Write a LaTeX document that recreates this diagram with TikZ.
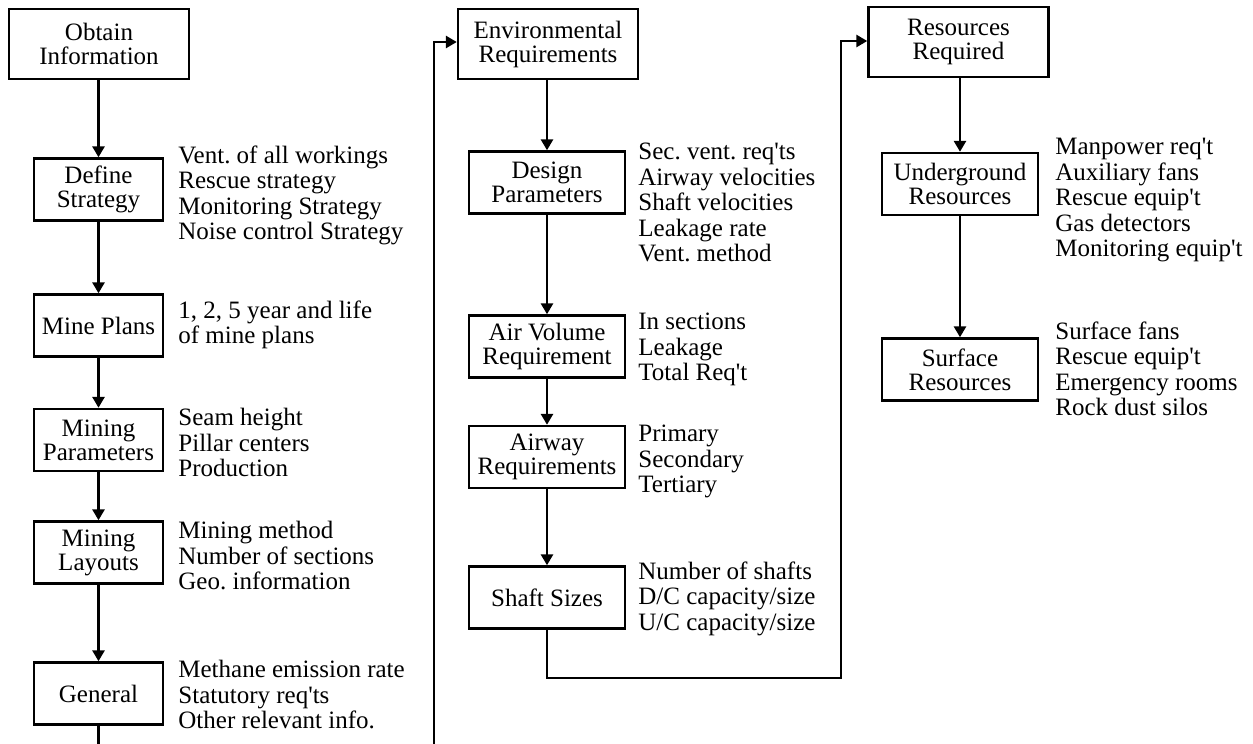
\documentclass[tikz,border=0pt]{standalone}
\usepackage{fontspec}
\setmainfont{Liberation Serif}
\usetikzlibrary{arrows.meta}
\frenchspacing
\newcommand{\ap}{\textquotesingle}

\tikzset{
  box/.style={draw, line width=1.2pt, rectangle, align=center, inner sep=1pt,
    minimum width=64.5pt, minimum height=31pt,
    font=\fontsize{12.5}{12}\selectfont},
  widebox/.style={box, minimum width=78pt},
  bigbox/.style={box, minimum width=90pt, minimum height=35pt},
  notes/.style={anchor=north west, inner sep=0pt, align=left,
    font=\fontsize{12.5}{12.75}\selectfont},
  arr/.style={line width=1.4pt, -{Triangle[length=5.5pt,width=6pt]}}
}

\begin{document}
\begin{tikzpicture}[x=0.5pt, y=-0.5pt]
  \useasboundingbox (0,0) rectangle (1253,744);
  \clip (0,0) rectangle (1253,744);

  % first column
  \node[bigbox] (obtain) at (99,44) {Obtain\\Information};
  \node[box] (define) at (98.5,189.5) {Define\\Strategy};
  \node[box] (plans) at (98.5,325.5) {Mine Plans};
  \node[box] (minpar) at (98.5,440) {Mining\\Parameters};
  \node[box] (minlay) at (98.5,552.5) {Mining\\Layouts};
  \node[box] (general) at (98.5,693.5) {General};

  \node[notes] (definetxt) at (178,145) {Vent. of all workings\\Rescue strategy\\Monitoring Strategy\\Noise control Strategy};
  \node[notes] (planstxt) at (178,300) {1, 2, 5 year and life\\of mine plans};
  \node[notes] (minpartxt) at (178,408) {Seam height\\Pillar centers\\Production};
  \node[notes] (minlaytxt) at (178,521) {Mining method\\Number of sections\\Geo. information};
  \node[notes] (generaltxt) at (178,660) {Methane emission rate\\Statutory req\ap ts\\Other relevant info.};

  % second column
  \node[bigbox] (envreq) at (548,44) {Environmental\\Requirements};
  \node[widebox] (design) at (547,182.5) {Design\\Parameters};
  \node[widebox] (airvol) at (547,346.5) {Air Volume\\Requirement};
  \node[widebox] (airway) at (547,457) {Airway\\Requirements};
  \node[widebox] (shaft) at (547,597.5) {Shaft Sizes};

  \node[notes] (designtxt) at (638,143) {Sec. vent. req\ap ts\\Airway velocities\\Shaft velocities\\Leakage rate\\Vent. method};
  \node[notes] (airvoltxt) at (638,313) {In sections\\Leakage\\Total Req\ap t};
  \node[notes] (airwaytxt) at (638,425) {Primary\\Secondary\\Tertiary};
  \node[notes] (shafttxt) at (638,561) {Number of shafts\\D/C capacity/size\\U/C capacity/size};

  % third column
  \node[bigbox] (resreq) at (958.5,42) {Resources\\Required};
  \node[widebox] (under) at (960,184) {Underground\\Resources};
  \node[widebox] (surface) at (960,369.5) {Surface\\Resources};

  \node[notes] (undertxt) at (1055,138) {Manpower req\ap t\\Auxiliary fans\\Rescue equip\ap t\\Gas detectors\\Monitoring equip\ap t};
  \node[notes] (surfacetxt) at (1055,321) {Surface fans\\Rescue equip\ap t\\Emergency rooms\\Rock dust silos};

  % arrows down each column
  \draw[arr] (define.north |- obtain.south) -- (define.north);
  \draw[arr] (define) -- (plans);
  \draw[arr] (plans) -- (minpar);
  \draw[arr] (minpar) -- (minlay);
  \draw[arr] (minlay) -- (general);

  \draw[arr] (design.north |- envreq.south) -- (design.north);
  \draw[arr] (design) -- (airvol);
  \draw[arr] (airvol) -- (airway);
  \draw[arr] (airway) -- (shaft);

  \draw[arr] (under.north |- resreq.south) -- (under.north);
  \draw[arr] (under) -- (surface);

  % links between columns
  \coordinate (loopa) at (434,770);
  \coordinate (loopb) at (841,678);
  \draw[arr] (general.south) |- (loopa) |- ([yshift=1pt]envreq.west);
  \draw[arr] (shaft.south) |- (loopb) |- ([yshift=0.5pt]resreq.west);
\end{tikzpicture}
\end{document}
